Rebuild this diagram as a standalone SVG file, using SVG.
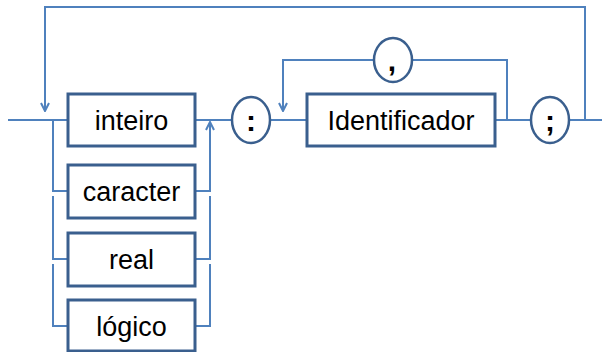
<svg xmlns="http://www.w3.org/2000/svg" width="602" height="352" viewBox="0 0 602 352">
  <style>
    .box { fill: #ffffff; stroke: #3A5F8E; stroke-width: 3; }
    .term { fill: #ffffff; stroke: #3A5F8E; stroke-width: 2.5; }
    .wire { fill: none; stroke: #4F81BD; stroke-width: 2; }
    .lbl { font-family: "Liberation Sans", Arial, sans-serif; font-size: 27px; fill: #000000; text-anchor: middle; }
    .sym { font-family: "Liberation Sans", Arial, sans-serif; font-size: 30px; font-weight: bold; fill: #000000; text-anchor: middle; }
  </style>
  <defs>
    <marker id="chev" viewBox="0 0 10 10" refX="9" refY="5" markerWidth="10" markerHeight="10" markerUnits="userSpaceOnUse" orient="auto">
      <polyline points="1,1 9,5 1,9" fill="none" stroke="#4F81BD" stroke-width="2"/>
    </marker>
  </defs>

  <g id="connectors">
    <!-- main line -->
    <line class="wire" x1="8" y1="120" x2="68" y2="120"/>
    <line class="wire" x1="195" y1="120" x2="232" y2="120"/>
    <line class="wire" x1="270" y1="120" x2="307" y2="120"/>
    <line class="wire" x1="495" y1="120" x2="531" y2="120"/>
    <line class="wire" x1="569" y1="120" x2="602" y2="120"/>
    <!-- outer repeat loop -->
    <polyline class="wire" points="585,120 585,7 45,7 45,111" marker-end="url(#chev)"/>
    <!-- comma repeat loop -->
    <polyline class="wire" points="507,120 507,60 412,60"/>
    <polyline class="wire" points="374,60 283,60 283,111" marker-end="url(#chev)"/>
    <!-- left branches -->
    <polyline class="wire" points="53,120 53,191 68,191"/>
    <polyline class="wire" points="53,196 53,259 68,259"/>
    <polyline class="wire" points="53,264 53,326 68,326"/>
    <!-- right branches -->
    <polyline class="wire" points="195,191 210,191 210,122" marker-end="url(#chev)"/>
    <polyline class="wire" points="195,259 210,259 210,196"/>
    <polyline class="wire" points="195,326 210,326 210,264"/>
  </g>

  <g id="inteiro">
    <rect class="box" x="68" y="94" width="127" height="52"/>
    <text class="lbl" x="131.5" y="130">inteiro</text>
  </g>
  <g id="caracter">
    <rect class="box" x="68" y="165" width="127" height="53"/>
    <text class="lbl" x="131.5" y="201">caracter</text>
  </g>
  <g id="real">
    <rect class="box" x="68" y="233" width="127" height="53"/>
    <text class="lbl" x="131.5" y="269">real</text>
  </g>
  <g id="logico">
    <rect class="box" x="68" y="300" width="127" height="51"/>
    <text class="lbl" x="131.5" y="336">lógico</text>
  </g>
  <g id="colon">
    <ellipse class="term" cx="251" cy="120" rx="19" ry="23"/>
    <text class="sym" x="251" y="131">:</text>
  </g>
  <g id="identificador">
    <rect class="box" x="307" y="94" width="188" height="52"/>
    <text class="lbl" x="401" y="130">Identificador</text>
  </g>
  <g id="comma">
    <ellipse class="term" cx="393" cy="60" rx="19" ry="22"/>
    <text class="sym" x="392" y="71">,</text>
  </g>
  <g id="semicolon">
    <ellipse class="term" cx="550" cy="120" rx="19" ry="23"/>
    <text class="sym" x="550" y="131">;</text>
  </g>
</svg>
